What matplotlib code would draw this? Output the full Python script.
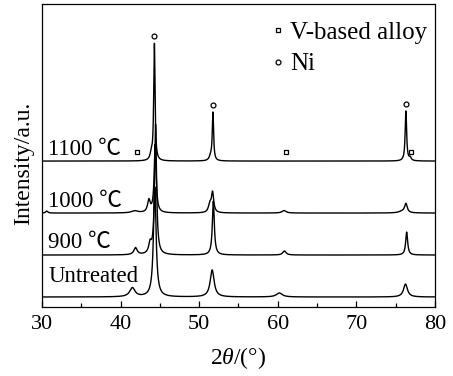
import numpy as np
import matplotlib
matplotlib.use("Agg")
import matplotlib.pyplot as plt
from matplotlib.lines import Line2D
from matplotlib.ticker import MultipleLocator

plt.rcParams['font.family'] = ['Liberation Serif', 'Noto Sans CJK SC', 'DejaVu Serif']
plt.rcParams['mathtext.fontset'] = 'custom'
plt.rcParams['mathtext.rm'] = 'Liberation Serif'
plt.rcParams['mathtext.it'] = 'Liberation Serif:italic'

# peak tables (2theta, height, fwhm), one per sample
labels = ['Untreated', '900 ℃', '1000 ℃', '1100 ℃']
offsets = [10, 52, 94, 146]
label_y = [25, 59, 100, 152]

untreated_pos = [41.5, 44.35, 51.65, 60.2, 76.25]
untreated_h = [9, 110, 27, 4, 13]
untreated_w = [0.8, 0.4, 0.6, 0.9, 0.6]

t900_pos = [41.9, 43.75, 44.45, 51.8, 60.85, 76.4]
t900_h = [7, 10, 130, 54, 4, 23]
t900_w = [0.5, 0.4, 0.3, 0.3, 0.5, 0.3]

t1000_pos = [30.6, 41.8, 43.6, 44.4, 51.35, 51.7, 60.8, 75.8, 76.3]
t1000_h = [2, 2, 12, 68, 8, 20, 2.5, 1.5, 9]
t1000_w = [0.3, 1.0, 0.4, 0.3, 0.4, 0.35, 0.6, 1.0, 0.4]

t1100_pos = [43.9, 44.3, 51.45, 51.75, 76.3, 76.85]
t1100_h = [6, 117, 4, 48, 50, 3]
t1100_w = [0.35, 0.2, 0.4, 0.2, 0.22, 0.3]

# phase markers
ni_pos = [44.3, 51.75, 76.3]
ni_y = [271, 202, 203]
v_pos = [42.1, 61.0, 76.9]
v_y = [155, 155, 155]

peaks = [(untreated_pos, untreated_h, untreated_w),
         (t900_pos, t900_h, t900_w),
         (t1000_pos, t1000_h, t1000_w),
         (t1100_pos, t1100_h, t1100_w)]

x = np.linspace(30, 80, 4000)


def pattern(pos, h, w):
    y = np.zeros_like(x)
    for p, a, f in zip(pos, h, w):
        g = (f / 2) ** 2
        y += a * g / ((x - p) ** 2 + g)
    return y


fig = plt.figure(figsize=(4.53, 3.76), dpi=100)
ax = fig.add_axes([0.0927, 0.1835, 0.8675, 0.8055])

for (pos, h, w), off, ly, lab in zip(peaks, offsets, label_y, labels):
    ax.plot(x, pattern(pos, h, w) + off, color='black', lw=1.0)
    ax.text(30.8, ly, lab, fontsize=16.5, va='baseline', ha='left')

ax.plot(ni_pos, ni_y, 'o', ls='none', mfc='white', mec='black', ms=3.5, mew=0.9)
ax.plot(v_pos, v_y, 's', ls='none', mfc='white', mec='black', ms=3.5, mew=0.9)

ax.set_xlim(30, 80)
ax.set_ylim(0, 303)
ax.set_yticks([])
ax.xaxis.set_major_locator(MultipleLocator(10))
ax.xaxis.set_minor_locator(MultipleLocator(5))
ax.tick_params(axis='x', which='major', direction='in', length=4, width=0.9,
               labelsize=16, pad=6)
ax.tick_params(axis='x', which='minor', direction='in', length=3, width=0.9)
for s in ax.spines.values():
    s.set_linewidth(0.9)

ax.set_xlabel(r'2$\theta$/(°)', fontsize=17, labelpad=8)
ax.set_ylabel('Intensity/a.u.', fontsize=17)
ax.yaxis.set_label_coords(-0.02, 0.475)

handles = [Line2D([], [], marker='s', ls='none', mfc='white', mec='black', ms=3.5, mew=0.9),
           Line2D([], [], marker='o', ls='none', mfc='white', mec='black', ms=3.5, mew=0.9)]
ax.legend(handles, ['V-based alloy', 'Ni'], loc='upper right', frameon=False,
          bbox_to_anchor=(1.0, 0.967), fontsize=18, handlelength=0.6,
          handletextpad=0.2, labelspacing=0.35, borderaxespad=0, borderpad=0.3)

fig.savefig('out.png', dpi=100)
